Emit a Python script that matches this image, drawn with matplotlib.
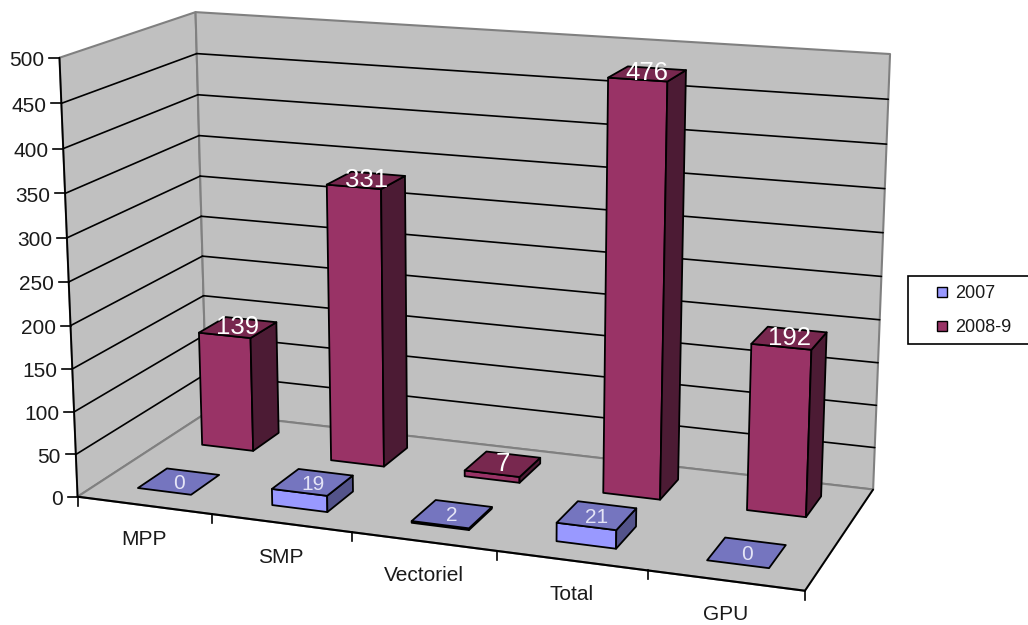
import numpy as np
import matplotlib
matplotlib.use("Agg")
import matplotlib.pyplot as plt
from matplotlib.patches import Polygon, Rectangle

plt.rcParams['font.family'] = ['Liberation Sans', 'DejaVu Sans']

# ---- data ----
categories = ['MPP', 'SMP', 'Vectoriel', 'Total', 'GPU']
series_names = ['2007', '2008-9']
values_2007 = [0, 19, 2, 21, 0]
values_2008 = [139, 331, 7, 476, 192]
value_ticks = [0, 50, 100, 150, 200, 250, 300, 350, 400, 450, 500]

# ---- view calibration: box corners (cat, depth, value) -> picture pixels ----
world_anchor = np.array([
    (0, 0, 0), (5, 0, 0), (5, 1, 0), (0, 1, 0),
    (0, 0, 500), (0, 1, 500), (5, 1, 500),
    (0, 1, 300), (5, 1, 300), (0, 0, 300), (0, 0, 100)], float)
pixel_anchor = np.array([
    (78, 497), (805, 591), (873, 489.5), (207, 413),
    (60, 58), (195, 12), (890.5, 54.5),
    (200.5, 176), (882.7, 232), (66.5, 238), (73.5, 411)], float)


def fit_camera(w, p):
    rows = []
    for (X, Y, Z), (u, v) in zip(w, p):
        h = [X / 5, Y, Z / 500, 1]
        rows.append(h + [0, 0, 0, 0] + [-u / 1000 * c for c in h])
        rows.append([0, 0, 0, 0] + h + [-v / 1000 * c for c in h])
    return np.linalg.svd(np.array(rows))[2][-1].reshape(3, 4)


CAM = fit_camera(world_anchor, pixel_anchor)


def proj(x, y, z):
    q = CAM @ np.array([x / 5, y, z / 500, 1.0])
    return (q[0] / q[2] * 1000, q[1] / q[2] * 1000)


WALL = '#c0c0c0'
EDGE = '#808080'
fig = plt.figure(figsize=(10.28, 6.25), dpi=100, facecolor='white')
ax = fig.add_axes([0, 0, 1, 1])
ax.set_xlim(0, 1028)
ax.set_ylim(625, 0)
ax.axis('off')
zmax = value_ticks[-1]
nc = len(categories)


def face(pts, fc, ec='black', lw=1.3, z=1):
    ax.add_patch(Polygon([proj(*p) for p in pts], closed=True, facecolor=fc,
                         edgecolor=ec, linewidth=lw, joinstyle='round', zorder=z))


# walls and floor
face([(0, 0, 0), (0, 1, 0), (0, 1, zmax), (0, 0, zmax)], WALL, EDGE, 1.5)
face([(0, 1, 0), (nc, 1, 0), (nc, 1, zmax), (0, 1, zmax)], WALL, EDGE, 1.5)
face([(0, 0, 0), (nc, 0, 0), (nc, 1, 0), (0, 1, 0)], WALL, EDGE, 1.5)


def seg(a, b, color='black', lw=1.2, z=2):
    pa, pb = proj(*a), proj(*b)
    ax.plot([pa[0], pb[0]], [pa[1], pb[1]], color=color, lw=lw, zorder=z,
            solid_capstyle='round')


# gridlines
for v in value_ticks[1:-1]:
    seg((0, 0, v), (0, 1, v))
    seg((0, 1, v), (nc, 1, v))

# axes
seg((0, 0, 0), (0, 0, zmax), lw=1.3)
seg((0, 0, 0), (nc, 0, 0), lw=1.5)
seg((nc, 0, 0), (nc, 1, 0), lw=1.3)
for v in value_ticks:
    px, py = proj(0, 0, v)
    ax.plot([px - 10, px], [py, py], color='black', lw=1.2, zorder=2)
    ax.text(px - 15, py + 1, str(v), ha='right', va='center_baseline', fontsize=15,
            color='#1a1a1a', zorder=2)
for i in range(nc + 1):
    px, py = proj(i, 0, 0)
    ax.plot([px, px], [py, py + 9], color='black', lw=1.2, zorder=2)
for i, c in enumerate(categories):
    px, py = proj(i + 0.5, 0, 0)
    ax.text(px, py + 39.5, c, ha='center', va='baseline', fontsize=15,
            color='#1a1a1a', zorder=2)

# bars
BAR_W = 0.40
rows = [
    (values_2007, 0.15, 0.37, '#9999ff', '#7575bf', '#53538a', '#e4e4f6', 15, 0),
    (values_2008, 0.65, 0.87, '#993366', '#78284f', '#4c1b34', 'white', 18.5, -3),
]
zo = 3
for vals, y0, y1, cf, ct, cs, tc, fs, dy in reversed(rows):
    for i, v in enumerate(vals):
        x0, x1 = i + 0.5 - BAR_W / 2, i + 0.5 + BAR_W / 2
        if v > 0:
            face([(x0, y0, 0), (x1, y0, 0), (x1, y0, v), (x0, y0, v)], cf, z=zo)
            face([(x1, y0, 0), (x1, y1, 0), (x1, y1, v), (x1, y0, v)], cs, z=zo)
        face([(x0, y0, v), (x1, y0, v), (x1, y1, v), (x0, y1, v)], ct, z=zo)
        px, py = proj(i + 0.5, (y0 + y1) / 2, v)
        ax.text(px, py + dy, str(v), ha='center', va='center_baseline', fontsize=fs,
                color=tc, zorder=zo + 1)
    zo += 2

# legend
ax.add_patch(Rectangle((907.5, 275.5), 125, 68, facecolor='white', edgecolor='black',
                       linewidth=1.2, zorder=5))
for name, col, yy in zip(series_names, ['#9999ff', '#993366'], [292, 325.5]):
    ax.add_patch(Rectangle((937, yy - 5), 10, 10, facecolor=col, edgecolor='black',
                           linewidth=1.0, zorder=6))
    ax.text(955, yy, name, ha='left', va='center_baseline', fontsize=13,
            color='#1a1a1a', zorder=6)

fig.savefig('out.png', dpi=100)
